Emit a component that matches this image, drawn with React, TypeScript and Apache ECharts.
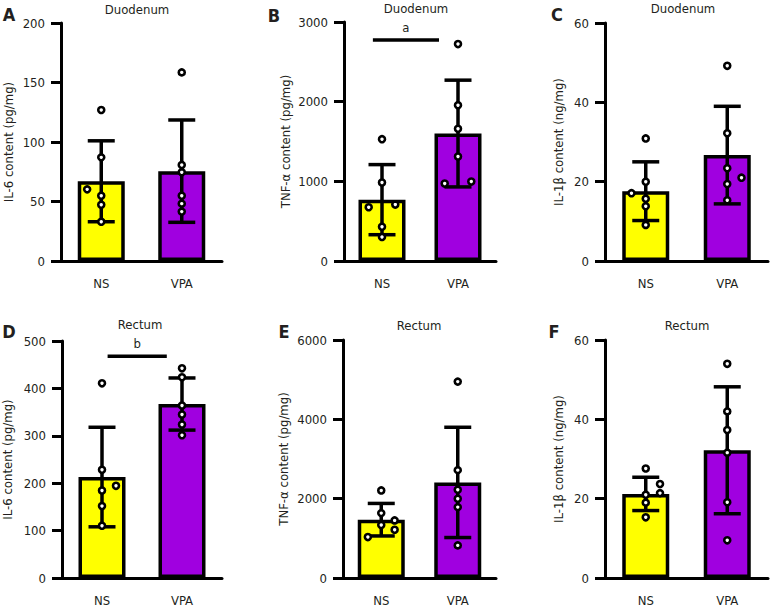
import React, { useEffect, useRef } from 'react';
import * as echarts from 'echarts';

const categories = ['NS', 'VPA'];

// A – IL-6, duodenum
const il6DuoNS = [126.9, 87.1, 60.2, 54.9, 47.3, 33.0];
const il6DuoVPA = [158.5, 80.7, 74.5, 54.9, 48.2, 41.5];
const il6DuoNSSide = [0, 0, -1, 0, 0, 0];
const il6DuoVPASide = [0, 0, 0, 0, 0, 0];
const il6DuoMean = [67, 75.5];
const il6DuoSD = [34, 43];

// B – TNF-α, duodenum
const tnfDuoNS = [1529, 985, 675, 708, 431, 302];
const tnfDuoVPA = [2723, 1956, 1659, 1311, 972, 997];
const tnfDuoNSSide = [0, 0, -1, 1, 0, 0];
const tnfDuoVPASide = [0, 0, 0, 0, -1, 1];
const tnfDuoMean = [770, 1600];
const tnfDuoSD = [440, 670];

// C – IL-1β, duodenum
const il1DuoNS = [30.9, 20.0, 17.1, 15.7, 13.8, 9.1];
const il1DuoVPA = [49.2, 32.2, 23.4, 21.0, 19.4, 15.3];
const il1DuoNSSide = [0, 0, -1, 0, 0, 0];
const il1DuoVPASide = [0, 0, 0, 1, 0, 0];
const il1DuoMean = [17.6, 26.7];
const il1DuoSD = [7.4, 12.3];

// D – IL-6, rectum
const il6RecNS = [410.8, 228.2, 194.5, 184.7, 151.7, 110.3];
const il6RecVPA = [442.4, 423.5, 363.8, 344.8, 323.7, 301.3];
const il6RecNSSide = [0, 0, 1, 0, 0, 0];
const il6RecVPASide = [0, 0, 0, 0, 0, 0];
const il6RecMean = [213, 367];
const il6RecSD = [105, 55];

// E – TNF-α, rectum
const tnfRecNS = [2207, 1636, 1334, 1452, 1217, 1032];
const tnfRecVPA = [4951, 2719, 2224, 1997, 1787, 822];
const tnfRecNSSide = [0, 0, 0, 1, 1, -1];
const tnfRecVPASide = [0, 0, 0, 0, 0, 0];
const tnfRecMean = [1470, 2410];
const tnfRecSD = [410, 1390];

// F – IL-1β, rectum
const il1RecNS = [27.6, 23.7, 21.4, 21.0, 19.0, 15.3];
const il1RecVPA = [54.0, 42.0, 37.3, 31.6, 19.1, 9.5];
const il1RecNSSide = [0, 1, 1, 0, 0, 0];
const il1RecVPASide = [0, 0, 0, 0, 0, 0];
const il1RecMean = [21.2, 32.2];
const il1RecSD = [4.2, 16];

// significance bars: [from (category units), to, value]
const sigB = [-0.12, 0.75, 2773];
const sigD = [0.07, 0.81, 468];

const yMaxes = [200, 3000, 60, 500, 6000, 60];
const yIntervals = [50, 1000, 20, 100, 2000, 20];
const yNames = [
  'IL-6 content (pg/mg)',
  'TNF-α content (pg/mg)',
  'IL-1β content (ng/mg)',
  'IL-6 content (pg/mg)',
  'TNF-α content (pg/mg)',
  'IL-1β content (ng/mg)',
];
const titles = ['Duodenum', 'Duodenum', 'Duodenum', 'Rectum', 'Rectum', 'Rectum'];
const letters = ['A', 'B', 'C', 'D', 'E', 'F'];

const FONT = "'DejaVu Sans Condensed', 'DejaVu Sans', sans-serif";
const TXT = '#231F20';
const barColors = ['#FFFF00', '#A000E0'];

const panels = [
  { ns: il6DuoNS, vpa: il6DuoVPA, nsSide: il6DuoNSSide, vpaSide: il6DuoVPASide, mean: il6DuoMean, sd: il6DuoSD, sig: null as null | number[], sigLabel: '' },
  { ns: tnfDuoNS, vpa: tnfDuoVPA, nsSide: tnfDuoNSSide, vpaSide: tnfDuoVPASide, mean: tnfDuoMean, sd: tnfDuoSD, sig: sigB, sigLabel: 'a' },
  { ns: il1DuoNS, vpa: il1DuoVPA, nsSide: il1DuoNSSide, vpaSide: il1DuoVPASide, mean: il1DuoMean, sd: il1DuoSD, sig: null, sigLabel: '' },
  { ns: il6RecNS, vpa: il6RecVPA, nsSide: il6RecNSSide, vpaSide: il6RecVPASide, mean: il6RecMean, sd: il6RecSD, sig: sigD, sigLabel: 'b' },
  { ns: tnfRecNS, vpa: tnfRecVPA, nsSide: tnfRecNSSide, vpaSide: tnfRecVPASide, mean: tnfRecMean, sd: tnfRecSD, sig: null, sigLabel: '' },
  { ns: il1RecNS, vpa: il1RecVPA, nsSide: il1RecNSSide, vpaSide: il1RecVPASide, mean: il1RecMean, sd: il1RecSD, sig: null, sigLabel: '' },
];

const gridBoxes = [
  { left: 61, top: 23, width: 161, height: 238 },
  { left: 344, top: 22, width: 152, height: 239 },
  { left: 605, top: 23, width: 163, height: 238 },
  { left: 61, top: 341, width: 161, height: 237 },
  { left: 343, top: 340, width: 153, height: 238 },
  { left: 605, top: 340, width: 163, height: 238 },
];
const nameGaps = [46, 52, 40, 48, 53, 40];
const titlePos = [
  [137, 9], [416, 8], [683, 8], [140, 324], [419, 325], [687, 325],
];
const letterPos = [
  [9, 14], [274, 15], [557, 14], [9, 331], [284, 331], [554, 331],
];

function buildOption() {
  const grid: any[] = [];
  const xAxis: any[] = [];
  const yAxis: any[] = [];
  const series: any[] = [];
  const graphic: any[] = [];

  panels.forEach((p, i) => {
    grid.push({ ...gridBoxes[i], containLabel: false });
    xAxis.push({
      gridIndex: i,
      type: 'category',
      data: categories,
      axisLine: { lineStyle: { color: '#000', width: 3 } },
      axisTick: { alignWithLabel: true, length: 10, lineStyle: { color: '#000', width: 3 } },
      axisLabel: { fontSize: 13, color: TXT, margin: 16, fontFamily: FONT },
      splitLine: { show: false },
    });
    yAxis.push({
      gridIndex: i,
      type: 'value',
      min: 0,
      max: yMaxes[i],
      interval: yIntervals[i],
      axisLine: { show: true, lineStyle: { color: '#000', width: 3 } },
      axisTick: { show: true, length: 10, lineStyle: { color: '#000', width: 3 } },
      axisLabel: {
        fontSize: 13, color: TXT, margin: 16, fontFamily: FONT,
        formatter: (v: number) => String(v),
      },
      splitLine: { show: false },
      name: yNames[i],
      nameLocation: 'middle',
      nameGap: nameGaps[i],
      nameTextStyle: { fontSize: 13, color: TXT, fontFamily: FONT },
    });
    series.push({
      type: 'bar',
      xAxisIndex: i,
      yAxisIndex: i,
      barWidth: 47,
      data: p.mean.map((m, k) => ({
        value: m,
        itemStyle: { color: barColors[k], borderColor: '#000', borderWidth: 3.5 },
      })),
      z: 2,
    });
    series.push({
      type: 'custom',
      xAxisIndex: i,
      yAxisIndex: i,
      z: 3,
      data: p.mean.map((m, k) => [k, m, p.sd[k]]),
      renderItem: (params: any, api: any) => {
        const k = api.value(0);
        const m = api.value(1);
        const s = api.value(2);
        const top = api.coord([k, m + s]);
        const bot = api.coord([k, m - s]);
        const half = 13.5;
        const st = { stroke: '#000', lineWidth: 3.5 };
        return {
          type: 'group',
          children: [
            { type: 'line', shape: { x1: top[0], y1: top[1], x2: bot[0], y2: bot[1] }, style: st },
            { type: 'line', shape: { x1: top[0] - half, y1: top[1], x2: top[0] + half, y2: top[1] }, style: st },
            { type: 'line', shape: { x1: bot[0] - half, y1: bot[1], x2: bot[0] + half, y2: bot[1] }, style: st },
          ],
        };
      },
    });
    const pts: number[][] = [];
    p.ns.forEach((v, j) => pts.push([0, v, p.nsSide[j]]));
    p.vpa.forEach((v, j) => pts.push([1, v, p.vpaSide[j]]));
    series.push({
      type: 'custom',
      xAxisIndex: i,
      yAxisIndex: i,
      z: 4,
      data: pts,
      renderItem: (params: any, api: any) => {
        const c = api.coord([api.value(0), api.value(1)]);
        const band = api.size([1, 0])[0];
        return {
          type: 'circle',
          shape: { cx: c[0] + api.value(2) * 0.175 * band, cy: c[1], r: 3.0 },
          style: { fill: '#fff', stroke: '#000', lineWidth: 2.6 },
        };
      },
    });
    if (p.sig) {
      const label = p.sigLabel;
      series.push({
        type: 'custom',
        xAxisIndex: i,
        yAxisIndex: i,
        z: 4,
        data: [p.sig],
        clip: false,
        renderItem: (params: any, api: any) => {
          const y = api.value(2);
          const c0 = api.coord([0, y]);
          const c1 = api.coord([1, y]);
          const band = c1[0] - c0[0];
          const x1 = c0[0] + api.value(0) * band;
          const x2 = c0[0] + api.value(1) * band;
          return {
            type: 'group',
            children: [
              { type: 'line', shape: { x1, y1: c0[1], x2, y2: c0[1] }, style: { stroke: '#000', lineWidth: 3.5 } },
              {
                type: 'text',
                style: {
                  x: (x1 + x2) / 2, y: c0[1] - 13, text: label, fill: TXT,
                  font: `13px ${FONT}`, align: 'center', verticalAlign: 'middle',
                },
              },
            ],
          };
        },
      });
    }
    graphic.push({
      type: 'text',
      x: titlePos[i][0],
      y: titlePos[i][1],
      style: { text: titles[i], fill: TXT, font: `13px ${FONT}`, align: 'center', verticalAlign: 'middle' },
    });
    graphic.push({
      type: 'text',
      x: letterPos[i][0],
      y: letterPos[i][1],
      style: { text: letters[i], fill: TXT, font: `bold 18px ${FONT}`, align: 'center', verticalAlign: 'middle' },
    });
  });

  return {
    animation: false,
    backgroundColor: '#fff',
    grid,
    xAxis,
    yAxis,
    series,
    graphic,
  };
}

export default function App() {
  const ref = useRef<HTMLDivElement>(null);
  useEffect(() => {
    if (!ref.current) return;
    const chart = echarts.init(ref.current, undefined, { renderer: 'svg' });
    chart.setOption(buildOption() as any);
    return () => chart.dispose();
  }, []);
  return (
    <div
      ref={ref}
      style={{ position: 'fixed', left: 0, top: 0, width: 772, height: 608 }}
    />
  );
}
